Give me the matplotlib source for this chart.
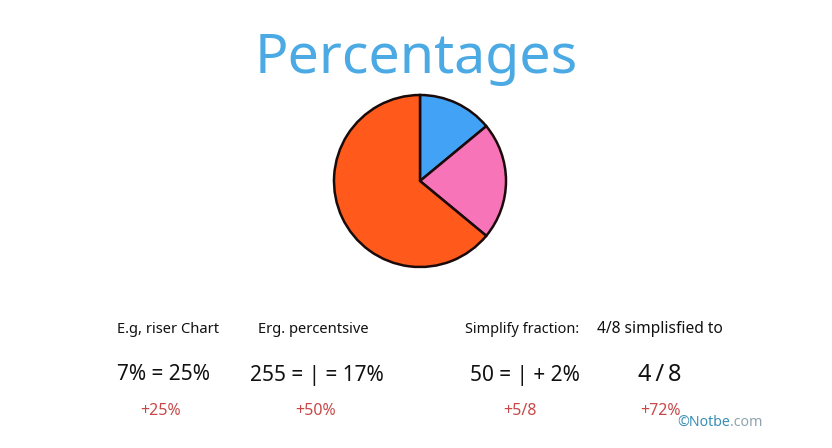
import matplotlib
matplotlib.use("Agg")
import matplotlib.pyplot as plt

plt.rcParams['font.family'] = ['Noto Sans', 'DejaVu Sans']

title = "Percentages"
slice_values = [14, 22, 64]
slice_colors = ["#42A2F6", "#F774B8", "#FF5A1C"]

headers = ["E.g, riser Chart", "Erg. percentsive", "Simplify fraction:", "4/8 simplisfied to"]
header_x = [117, 258, 465, 597]
equations = ["7% = 25%", "255 = | = 17%", "50 = | + 2%", "4\u2009/\u20098"]
equation_x = [117, 250, 470, 638]
changes = ["+25%", "+50%", "+5/8", "+72%"]
change_x = [140, 295, 503, 640]

W, H = 832, 448
fig = plt.figure(figsize=(W / 100, H / 100), dpi=100)
fig.patch.set_facecolor("white")

def fx(px):
    return px / W

def fy(py):
    return 1 - py / H

fig.text(fx(416), fy(73), title, ha="center", va="baseline", fontsize=40, color="#4BA9E4")

cx, cy, r = 420, 181, 86
ax = fig.add_axes([fx(cx - r - 2), fy(cy + r + 2), (2 * r + 4) / W, (2 * r + 4) / H])
ax.pie(slice_values, colors=slice_colors, startangle=90, counterclock=False,
       wedgeprops=dict(edgecolor="#1a0a0a", linewidth=1.8))
lim = (r + 2) / r
ax.set_xlim(-lim, lim)
ax.set_ylim(-lim, lim)
ax.set_aspect("equal")
ax.axis("off")

header_sizes = [10.6, 10.6, 10.4, 11.2]
for t, x, fs in zip(headers, header_x, header_sizes):
    fig.text(fx(x), fy(329), t, ha="left", va="center", fontsize=fs, color="#111111")
for i, (t, x) in enumerate(zip(equations, equation_x)):
    fs = 17 if i == 3 else 15
    fig.text(fx(x), fy(375), t, ha="left", va="center", fontsize=fs, color="#111111")
for t, x in zip(changes, change_x):
    fig.text(fx(x), fy(411), t, ha="left", va="center", fontsize=11.5, color="#C84848")

t1 = fig.text(fx(677), fy(422), "©Notbe", ha="left", va="center", fontsize=10.2, color="#3A8DB5")
fig.canvas.draw()
bb = t1.get_window_extent()
fig.text(bb.x1 / W, fy(422), ".com", ha="left", va="center", fontsize=10.2, color="#8FA3AE")

fig.savefig("out.png", dpi=100, facecolor="white")
